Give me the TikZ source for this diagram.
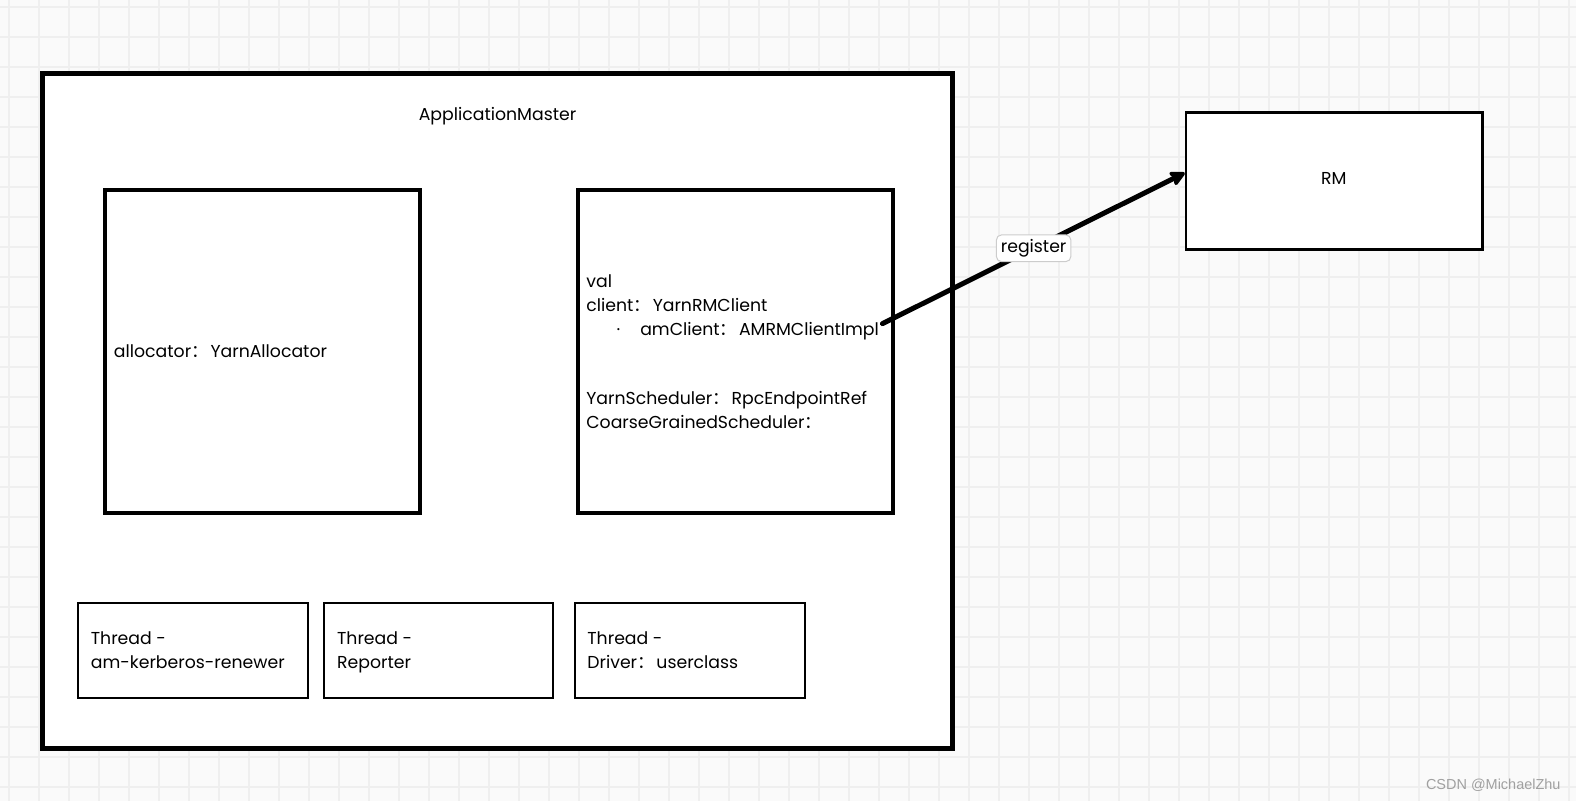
\documentclass[tikz,border=0pt]{standalone}
\usepackage{fontspec}
\setmainfont{Poppins}
\newfontfamily\cjk{Noto Sans CJK SC}
\newfontfamily\wmfont{Liberation Sans}
\usetikzlibrary{arrows.meta}
\definecolor{bggray}{HTML}{FAFAFA}
\definecolor{gridgray}{HTML}{EFEFEF}
\definecolor{lblborder}{HTML}{CCCCCC}
\definecolor{wmgray}{HTML}{A0A0A0}
\newcommand{\fc}{{\cjk ：}\hspace{1pt}}
\tikzset{
  x=0.5pt,y=-0.5pt,
  bigbox/.style={draw=black,line width=2.5pt,fill=white,inner sep=0pt},
  innerbox/.style={draw=black,line width=2pt,fill=white,inner sep=0pt,minimum width=157pt,minimum height=160.5pt},
  threadbox/.style={draw=black,line width=1pt,fill=white,inner sep=0pt,minimum width=114pt,minimum height=47pt},
  rmbox/.style={draw=black,line width=1.25pt,fill=white,inner sep=0pt,minimum width=147.5pt,minimum height=68pt},
  txt/.style={font=\fontsize{8.6pt}{12pt}\selectfont,inner sep=0pt,align=left},
  lbl/.style={draw=lblborder,line width=0.5pt,rounded corners=2.5pt,fill=white,inner sep=2.2pt,font=\fontsize{8.6pt}{10pt}\selectfont},
}
\begin{document}
\begin{tikzpicture}
\useasboundingbox (0,0) rectangle (1568,797);
\fill[bggray] (0,0) rectangle (1568,797);
\foreach \i in {0,...,52}{
  \draw[gridgray,line width=0.9pt] (8.95+29.85*\i,0) -- (8.95+29.85*\i,797);
}
\foreach \j in {0,...,26}{
  \draw[gridgray,line width=0.9pt] (0,6.96+29.85*\j) -- (1568,6.96+29.85*\j);
}
% outer box
\node[bigbox,minimum width=453pt,minimum height=336pt] (am) at (495,409) {};
\node[txt] (amtitle) at (495,116) {ApplicationMaster};
% inner boxes
\node[innerbox] (alloc) at (261,349.5) {};
\node[txt,anchor=west] (alloctxt) at (113,349) {allocator\fc YarnAllocator};
\node[innerbox,minimum width=156.5pt] (client) at (731.5,349.5) {};
\node[txt,anchor=north west] (clienttxt) at (583,273) {val\\
client\fc YarnRMClient\\
\hspace{15pt}·\hspace{10pt}amClient\fc AMRMClientImpl\\[22pt]
YarnScheduler\fc RpcEndpointRef\\
CoarseGrainedScheduler\fc};
% thread boxes
\node[threadbox] (t1) at (192,647) {};
\node[threadbox] (t2) at (436.5,647) {};
\node[threadbox] (t3) at (686.5,647) {};
\node[txt,anchor=north west] (t1txt) at (90,628) {Thread -\\am-kerberos-renewer};
\node[txt,anchor=north west] (t2txt) at (335,628) {Thread -\\Reporter};
\node[txt,anchor=north west] (t3txt) at (584,628) {Thread -\\Driver\fc userclass};
% RM
\node[rmbox] (rm) at (1327.5,180) {};
\node[txt] (rmtxt) at (1327,178) {RM};
% arrow
\coordinate (src) at (878,322);
\draw[line width=2.5pt,-{Stealth[length=9pt,width=9pt,inset=2pt,round]},line cap=round] (src) -- (rm.west |- 0,172) node[midway,lbl] (reg) {register};
% watermark
\node[font=\wmfont\fontsize{7.2pt}{8pt}\selectfont,text=wmgray,anchor=east,inner sep=0pt] (wm) at (1553,781) {CSDN @MichaelZhu};
\end{tikzpicture}
\end{document}
